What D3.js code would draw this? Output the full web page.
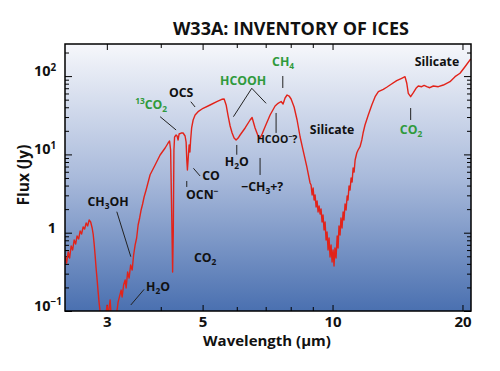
<!DOCTYPE html>
<html>
<head>
<meta charset="utf-8">
<script src="https://cdn.jsdelivr.net/npm/d3@7"></script>
<style>
  body { margin: 0; background: #fff; }
  svg text { font-family: "Open Sans", "Noto Sans", sans-serif; font-weight: 700; }
</style>
</head>
<body>
<div id="chart_id"></div>
<script>
// --- --- --- Data --- --- ---

// W33A spectrum, wavelength in micron
const wavelength = [
  2.402, 2.421, 2.441, 2.460, 2.480, 2.500, 2.520, 2.540, 2.560, 2.581,
  2.602, 2.622, 2.644, 2.665, 2.687, 2.708, 2.730, 2.752, 2.774, 2.789,
  2.804, 2.819, 2.833, 2.849, 2.864, 2.879, 2.895, 2.926, 2.957, 2.989,
  3.005, 3.021, 3.053, 3.070, 3.103, 3.136, 3.169, 3.186, 3.212, 3.238,
  3.255, 3.281, 3.308, 3.325, 3.352, 3.379, 3.406, 3.434, 3.461, 3.489,
  3.517, 3.545, 3.574, 3.602, 3.631, 3.660, 3.699,
  3.779, 3.881, 3.986, 4.094, 4.160, 4.193, 4.216, 4.239, 4.261, 4.277,
  4.291, 4.306, 4.341, 4.364, 4.388, 4.411, 4.459, 4.506, 4.554, 4.579,
  4.596, 4.611, 4.628, 4.653, 4.673, 4.691, 4.716, 4.754, 4.804,
  4.881, 5.013, 5.204, 5.393, 5.540, 5.609, 5.669, 5.729, 5.791, 5.853,
  5.915, 5.978, 6.043, 6.107, 6.273, 6.442, 6.511, 6.615, 6.723, 6.794,
  6.868, 6.978, 7.167, 7.361, 7.479, 7.600, 7.681, 7.763, 7.848, 7.931,
  8.016, 8.146, 8.277, 8.412, 8.560, 8.717, 8.871,
  8.918, 8.968, 9.016, 9.063, 9.112, 9.160, 9.209, 9.257, 9.309, 9.357,
  9.406, 9.456, 9.506, 9.557, 9.610, 9.661, 9.712, 9.764, 9.816, 9.868,
  9.922, 9.975, 10.03, 10.08, 10.13, 10.19, 10.25, 10.30, 10.35, 10.41,
  10.46, 10.52, 10.58, 10.63, 10.69, 10.75, 10.81, 10.86, 10.92, 10.98,
  11.04, 11.10, 11.16, 11.22, 11.28, 11.38, 11.46, 11.58,
  11.69, 11.77, 11.89, 12.10, 12.33, 12.55, 12.77, 13.11, 13.35, 13.59,
  14.08, 14.46, 14.72, 14.86, 14.98, 15.17, 15.39, 15.61, 15.80, 16.09,
  16.30, 16.53, 16.80, 17.12, 17.58, 18.06, 18.71, 19.22, 19.74, 20.27,
  20.90
];

// flux in Jy
const flux = [
  0.504, 0.410, 0.567, 0.475, 0.676, 0.601, 0.807, 0.717, 0.908, 0.831,
  1.051, 0.962, 1.183, 1.115, 1.330, 1.218, 1.453, 1.370, 1.148, 0.962,
  0.717, 0.504, 0.354, 0.249, 0.175, 0.127, 0.097, 0.081, 0.077, 0.097,
  0.119, 0.086, 0.138, 0.089, 0.072, 0.081, 0.103, 0.130, 0.155, 0.185,
  0.151, 0.215, 0.249, 0.197, 0.315, 0.264, 0.387, 0.334, 0.519, 0.697,
  0.856, 1.254, 1.541, 1.950, 2.325, 2.857, 3.511,
  5.50, 7.32, 9.82, 12.07, 13.98, 14.83, 11.38, 1.950, 0.315, 1.083,
  11.38, 16.68, 17.69, 17.18, 15.28, 18.22, 18.76, 18.76, 17.18, 14.40,
  8.48, 6.32, 8.48, 13.18, 10.73, 15.28, 21.74, 27.50, 31.86,
  35.10, 38.80, 42.75, 47.11, 50.54, 50.99, 42.75, 30.94, 23.05, 18.76,
  16.19, 15.28, 16.19, 17.69, 21.74, 27.50, 29.60, 21.74, 17.18, 16.05,
  18.22, 22.58, 31.86, 41.51, 44.95, 47.38, 44.02, 52.52, 57.36, 55.69,
  50.99, 40.31, 27.50, 16.68, 10.83, 6.965, 4.312,
  4.066, 3.030, 3.723, 2.616, 3.030, 2.129, 2.540, 1.838, 2.193, 1.733,
  2.007, 1.370, 1.683, 1.083, 1.370, 0.807, 1.021, 0.601, 0.856, 0.489,
  0.697, 0.422, 0.601, 0.376, 0.638, 0.475, 0.908, 0.638, 1.218, 0.935,
  1.541, 1.148, 1.838, 1.453, 2.325, 1.950, 2.943, 2.616, 3.948, 3.511,
  4.995, 4.441, 6.705, 5.959, 8.48, 10.42, 11.38, 12.54,
  15.28, 18.76, 23.74, 31.86, 42.75, 54.57, 63.20, 67.83, 72.0, 76.96,
  87.35, 93.73, 98.24, 80.91, 60.29, 54.57, 61.38, 69.86, 74.74, 73.20,
  76.0, 73.20, 71.0, 74.74, 73.20, 76.96, 84.81, 98.24, 108.6, 131.8,
  165.4
];

const xTickValues = [3, 5, 10, 20];
const xMinorTicks = [4, 6, 7, 8, 9];
const yTickValues = [0.1, 1, 10, 100];
const yTickLabels = ["10^{−1}", "1", "10^{1}", "10^{2}"];

// species labels: text (^{} sup, _{} sub), colour, anchor (wavelength, flux), leader line
const GREEN = "#2f9a3c";
const annotations = [
  {text: "^{13}CO_{2}", color: GREEN, at: [3.80, 38.0], line: [[3.986, 30.3], [4.341, 20.5]]},
  {text: "OCS", at: [4.459, 54.1], line: [[4.695, 47.1], [4.804, 40.3]]},
  {text: "HCOOH", color: GREEN, at: [6.206, 77.0], line: [[5.894, 30.3], [6.50, 69.9], [7.016, 44.9]]},
  {text: "CH_{4}", color: GREEN, at: [7.681, 134.6], line: [[7.669, 100.3], [7.669, 70.5]]},
  {text: "H_{2}O", at: [6.00, 7.11], line: [[6.00, 13.2], [6.00, 9.9]]},
  {text: "−CH_{3}+?", at: [6.868, 3.41], line: [[6.794, 9.0], [6.794, 5.46]]},
  {text: "HCOO^{−}?", size: 10.5, at: [7.44, 13.98], line: [[7.40, 33.8], [7.40, 18.8]]},
  {text: "Silicate", at: [9.975, 18.2]},
  {text: "Silicate", at: [17.46, 134.6]},
  {text: "CO_{2}", color: GREEN, at: [15.2, 18.2], line: [[15.17, 39.1], [15.17, 27.5]]},
  {text: "CO", at: [5.23, 4.71], line: [[4.761, 6.65], [4.934, 5.30]]},
  {text: "OCN^{−}", at: [4.99, 2.69], line: [[4.595, 4.57], [4.595, 3.84]]},
  {text: "CH_{3}OH", at: [3.02, 2.19], line: [[3.164, 1.854], [3.409, 0.494]]},
  {text: "H_{2}O", at: [3.944, 0.180], line: [[3.66, 0.189], [3.409, 0.1193]]},
  {text: "CO_{2}", at: [5.07, 0.422]}
];

// --- --- --- Chart --- --- ---

const width = 500;
const height = 371;
const margin = {top: 44, right: 29, bottom: 60, left: 65};

const x = d3.scaleLog()
  .domain([2.4, 20.93])
  .range([margin.left, width - margin.right]);

const y = d3.scaleLog()
  .domain([0.1, 257])
  .range([height - margin.bottom, margin.top]);

const svg = d3.select("#chart_id")
  .append("svg")
  .attr("width", width)
  .attr("height", height);

// write "10^{2}" / "CH_{4}" style strings as tspans
function richText(textSel, str, fs) {
  const re = /(\^|_)\{([^}]*)\}|([^\^_]+)/g;
  let m, shift = 0;
  while ((m = re.exec(str)) !== null) {
    let target = 0, size = fs, content = m[3];
    if (m[1] === "^") { target = -0.38 * fs; size = 0.68 * fs; content = m[2]; }
    if (m[1] === "_") { target = 0.25 * fs; size = 0.68 * fs; content = m[2]; }
    textSel.append("tspan")
      .attr("dy", target - shift)
      .attr("font-size", size)
      .text(content);
    shift = target;
  }
}

// background gradient
const grad = svg.append("defs").append("linearGradient")
  .attr("id", "bg_grad")
  .attr("x1", 0).attr("y1", 0).attr("x2", 0).attr("y2", 1);
grad.append("stop").attr("offset", "0%").attr("stop-color", "#f6f7fb");
grad.append("stop").attr("offset", "50%").attr("stop-color", "#a9badb");
grad.append("stop").attr("offset", "100%").attr("stop-color", "#4a70b0");

svg.select("defs").append("clipPath").attr("id", "plot_clip")
  .append("rect")
  .attr("x", margin.left).attr("y", margin.top)
  .attr("width", width - margin.left - margin.right)
  .attr("height", height - margin.top - margin.bottom);

svg.append("rect")
  .attr("x", margin.left).attr("y", margin.top)
  .attr("width", width - margin.left - margin.right)
  .attr("height", height - margin.top - margin.bottom)
  .attr("fill", "url(#bg_grad)");

// minor ticks for the log y axis
const yMinor = [];
yTickValues.forEach(d => {
  for (let k = 2; k <= 9; k++) if (d * k <= y.domain()[1]) yMinor.push(d * k);
});

function ticks(g) {
  g.select(".domain").remove();
  g.selectAll(".tick line").attr("stroke", "#000").attr("stroke-width", 1);
}

const bottom = height - margin.bottom;
const right = width - margin.right;

// x axes (bottom with labels, top without)
svg.append("g").attr("transform", `translate(0,${bottom})`)
  .call(d3.axisBottom(x).tickValues(xTickValues).tickSize(-6).tickPadding(5).tickFormat(d3.format("d")))
  .call(ticks)
  .call(g => g.selectAll("text").attr("font-size", 15).attr("fill", "#111")
    .attr("font-family", '"Open Sans", sans-serif').attr("font-weight", 700));
svg.append("g").attr("transform", `translate(0,${bottom})`)
  .call(d3.axisBottom(x).tickValues(xMinorTicks).tickSize(-4).tickFormat(""))
  .call(ticks);
svg.append("g").attr("transform", `translate(0,${margin.top})`)
  .call(d3.axisTop(x).tickValues(xTickValues).tickSize(-6).tickFormat(""))
  .call(ticks);
svg.append("g").attr("transform", `translate(0,${margin.top})`)
  .call(d3.axisTop(x).tickValues(xMinorTicks).tickSize(-4).tickFormat(""))
  .call(ticks);

// y axes
svg.append("g").attr("transform", `translate(${margin.left},0)`)
  .call(d3.axisLeft(y).tickValues(yTickValues).tickSize(-7).tickFormat(""))
  .call(ticks);
svg.append("g").attr("transform", `translate(${margin.left},0)`)
  .call(d3.axisLeft(y).tickValues(yMinor).tickSize(-4).tickFormat(""))
  .call(ticks);
svg.append("g").attr("transform", `translate(${right},0)`)
  .call(d3.axisRight(y).tickValues(yTickValues).tickSize(-7).tickFormat(""))
  .call(ticks);
svg.append("g").attr("transform", `translate(${right},0)`)
  .call(d3.axisRight(y).tickValues(yMinor).tickSize(-4).tickFormat(""))
  .call(ticks);

// y tick labels, "10" parts lined up, plain "1" set right
yTickValues.forEach((v, i) => {
  const lbl = yTickLabels[i];
  const t = svg.append("text")
    .attr("y", y(v))
    .attr("dy", "0.36em")
    .attr("font-size", 14.5)
    .attr("fill", "#111");
  if (lbl.startsWith("10")) t.attr("x", margin.left - 31).attr("text-anchor", "start");
  else t.attr("x", margin.left - 9).attr("text-anchor", "end");
  richText(t, lbl, 14.5);
});

// spectrum
const points = wavelength.map((w, i) => [w, flux[i]]);
svg.append("path")
  .datum(points)
  .attr("clip-path", "url(#plot_clip)")
  .attr("fill", "none")
  .attr("stroke", "#e2231a")
  .attr("stroke-width", 1.4)
  .attr("stroke-linejoin", "round")
  .attr("d", d3.line().x(d => x(d[0])).y(d => y(d[1])));

// frame
svg.append("rect")
  .attr("x", margin.left).attr("y", margin.top)
  .attr("width", width - margin.left - margin.right)
  .attr("height", height - margin.top - margin.bottom)
  .attr("fill", "none")
  .attr("stroke", "#000")
  .attr("stroke-width", 1.5);

// annotations
annotations.forEach(a => {
  if (a.line) {
    svg.append("path")
      .attr("fill", "none")
      .attr("stroke", "#222")
      .attr("stroke-width", 1)
      .attr("d", d3.line().x(d => x(d[0])).y(d => y(d[1]))(a.line));
  }
  const fs = a.size || 12.3;
  const t = svg.append("text")
    .attr("x", x(a.at[0]))
    .attr("y", y(a.at[1]))
    .attr("text-anchor", "middle")
    .attr("font-size", fs)
    .attr("fill", a.color || "#111");
  richText(t, a.text, fs);
});

// titles
svg.append("text")
  .attr("x", 291).attr("y", 35)
  .attr("text-anchor", "middle")
  .attr("font-size", 18)
  .attr("fill", "#111")
  .text("W33A: INVENTORY OF ICES");

svg.append("text")
  .attr("x", 267).attr("y", 346)
  .attr("text-anchor", "middle")
  .attr("font-size", 15)
  .attr("fill", "#111")
  .text("Wavelength (μm)");

svg.append("text")
  .attr("transform", "translate(29,175) rotate(-90)")
  .attr("text-anchor", "middle")
  .attr("font-size", 15.5)
  .attr("fill", "#111")
  .text("Flux (Jy)");
</script>
</body>
</html>
